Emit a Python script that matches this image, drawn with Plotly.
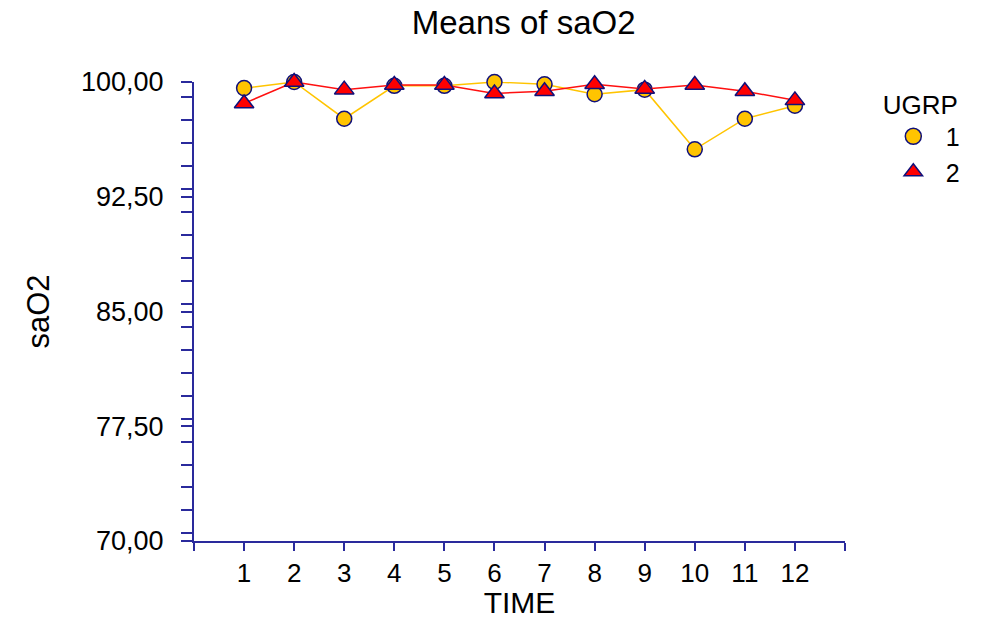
import plotly.graph_objects as go

time = list(range(1, 13))
ugrp1 = [99.6, 100.0, 97.6, 99.75, 99.75, 100.0, 99.85, 99.2, 99.5, 95.6, 97.6, 98.45]
ugrp2 = [98.6, 100.0, 99.5, 99.8, 99.8, 99.25, 99.4, 99.85, 99.55, 99.8, 99.4, 98.8]
groups = ["1", "2"]
x_tickvals = list(range(0, 14))
x_ticktext = [""] + [str(t) for t in time] + [""]

NAVY = "#2a2a9c"
OUTLINE = "#10107a"
FONT = "Liberation Sans, Arial, sans-serif"

styles = [
    dict(symbol="circle", size=15, fill="#ffc400", line="#ffc400"),
    dict(symbol="triangle-up", size=17, fill="#ff0000", line="#ff1010"),
]

fig = go.Figure()
for name, vals, st in zip(groups, [ugrp1, ugrp2], styles):
    fig.add_trace(go.Scatter(
        x=time, y=vals, name=name, mode="lines+markers", showlegend=False,
        line=dict(color=st["line"], width=1.5),
        marker=dict(symbol=st["symbol"], size=st["size"], color=st["fill"],
                    line=dict(color=OUTLINE, width=1.5)),
        cliponaxis=False,
    ))
for name, st in zip(groups, styles):
    fig.add_trace(go.Scatter(
        x=[None], y=[None], name=name, mode="markers", showlegend=True,
        marker=dict(symbol=st["symbol"], size=st["size"] + 2, color=st["fill"],
                    line=dict(color=OUTLINE, width=1.5)),
    ))

fig.update_layout(
    width=988, height=619,
    margin=dict(l=194, r=143, t=82, b=78),
    paper_bgcolor="white", plot_bgcolor="white",
    separators=",.",
    font=dict(family=FONT, color="black", size=24),
    title=dict(text="Means of saO2", x=0.53, xref="container", xanchor="center",
               y=1 - 22 / 619, yref="container", yanchor="middle",
               font=dict(size=33, family=FONT, color="black")),
    showlegend=True,
    legend=dict(x=1.055, xanchor="left", y=1.005, yanchor="top",
                title=dict(text="UGRP", font=dict(size=26, family=FONT)),
                font=dict(size=25, family=FONT),
                itemwidth=55, tracegroupgap=0, bgcolor="rgba(0,0,0,0)"),
    xaxis=dict(
        range=[0, 13], tickmode="array", tickvals=x_tickvals, ticktext=x_ticktext,
        showline=True, linecolor=NAVY, linewidth=2,
        ticks="outside", ticklen=8, tickwidth=2, tickcolor=NAVY,
        showgrid=False, zeroline=False,
        tickfont=dict(size=26, family=FONT, color="black"),
        title=dict(text="TIME", font=dict(size=30, family=FONT, color="black"), standoff=4),
        automargin=False,
    ),
    yaxis=dict(
        range=[70, 100], tickmode="linear", tick0=70, dtick=7.5, tickformat=".2f",
        showline=True, linecolor=NAVY, linewidth=2,
        ticks="outside", ticklen=11, tickwidth=2, tickcolor=NAVY,
        minor=dict(dtick=1.5, ticks="outside", ticklen=11, tickwidth=1.5, tickcolor=NAVY),
        showgrid=False, zeroline=False,
        tickfont=dict(size=27, family=FONT, color="black"),
        ticklabelstandoff=12,
        title=dict(text="saO2", font=dict(size=31, family=FONT, color="black"), standoff=22),
        automargin=False,
    ),
)

fig.write_html("out.html")
